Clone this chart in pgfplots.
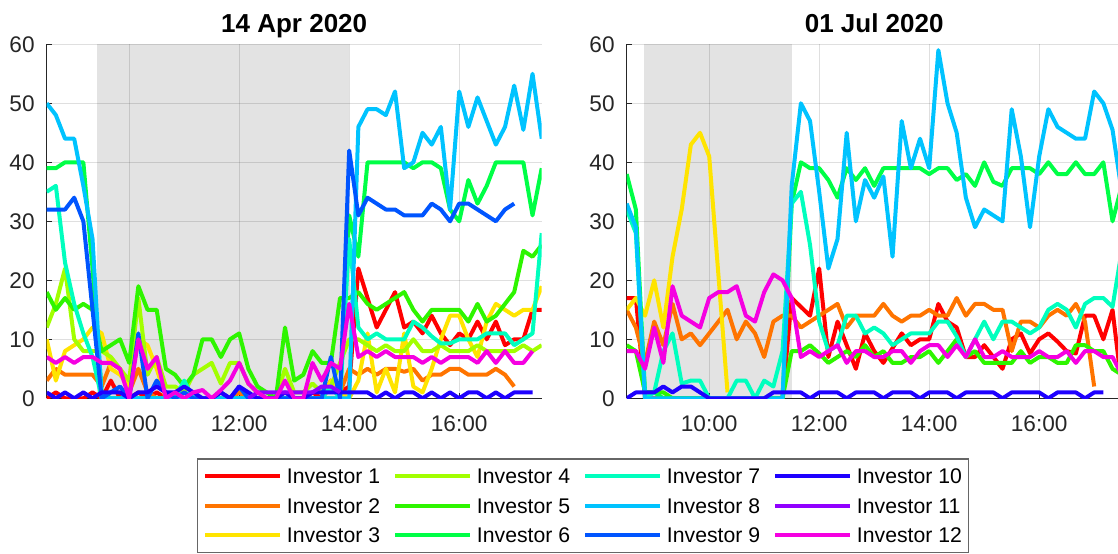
\documentclass[border=0pt]{standalone}
\usepackage{pgfplots}
\pgfplotsset{compat=1.18}
\usepackage{pgfplotstable}
\usepackage{fontspec}
\setmainfont{Liberation Sans}

\definecolor{c1}{RGB}{255,0,0}
\definecolor{c2}{RGB}{255,116,0}
\definecolor{c3}{RGB}{255,228,0}
\definecolor{c4}{RGB}{162,255,0}
\definecolor{c5}{RGB}{46,245,0}
\definecolor{c6}{RGB}{0,255,70}
\definecolor{c7}{RGB}{0,255,190}
\definecolor{c8}{RGB}{0,195,255}
\definecolor{c9}{RGB}{0,85,255}
\definecolor{c10}{RGB}{30,0,255}
\definecolor{c11}{RGB}{145,0,255}
\definecolor{c12}{RGB}{245,0,225}
\definecolor{axc}{RGB}{38,38,38}
\definecolor{shade}{RGB}{227,227,227}

% 14 Apr 2020 : i = 10-minute steps from 08:30
\pgfplotstableread{
i  s1 s2 s3 s4 s5 s6 s7 s8 s9 s10 s11 s12
0  0  3  10 12 18 39 35 50 32 1 nan 7
1  1  5  3  16 15 39 36 48 32 0 nan 6
2  0  4  8  22 17 40 23 44 32 1 nan 7
3  0  4  9  10 15 40 16 44 34 0 nan 6
4  0  4  10 8  16 40 11 36 30 1 nan 7
5  1  4  12 8  15 22 7  27 15 0 nan 7
6  0  2  11 8  8  1  0  0  0  1 nan 6
7  3  6  5  7  9  0  0  0  1  1 nan 6
8  0  5  4  5  10 0  0  0  2  1 nan 5
9  0  1  2  3  6  0  0  0  0  0 nan 0
10 1  5  10 17 19 0  0  0  11 1 nan 10
11 0  1  9  4  15 0  0  0  0  1 nan 5
12 1  0  5  7  15 0  0  0  3  2 nan 7
13 0  0  0  2  5  0  0  0  1  1 nan 0
14 0  0  1  2  4  0  0  0  0  1 nan 1
15 0  0  0  1  2  0  3  0  1  2 nan 0
16 0  0  0  4  4  0  0  0  0  1 nan 1
17 0  0  0  5  10 0  0  0  0  0 nan 1.4
18 0  0  0  6  10 0  0  0  0  0 nan 0
19 0  0  0  2.5 7 0  0  0  1  1 nan 1.4
20 0  0  0  6  10 0  0  0  0  0 nan 3
21 1  1  0  6  11 0  0  0  2  2 nan 6
22 0  0  0  2.5 5 0  0  0  0  1 0 2.5
23 0  0  0  1  2  0  0  0  0  0 1 1
24 0  0  0  0  1  0  0  0  0  0 1 0
25 0  0  0  0  0  0  0  0  0  0 1 0
26 0  0  0  5  12 0  0  0  0  1 1 3
27 0  0  0  1  3  0  0  0  0  0 1 0
28 0  0  0  1  4  0  0  0  0  0 1 0
29 1  0  0  2.5 8 0  0  0  0  1 1 6
30 0  0  0  1  6  0  0  0  0  1 2 3
31 3  2  3  2  6  0  2  0  7  1 2 6
32 1  1  1  6  17 0  0  0  0  1 1 5
33 2  5  0  10 17 31 27 0  42 1 nan 16
34 22 4  3  10 18 24 12 46 31 1 nan 7
35 17 5  11 9  16 40 10 49 34 1 nan 8
36 12 4  1  8  15 40 11 49 33 0 nan 7
37 15 5  5  9  16 40 10 48 32 1 nan 8
38 18 5  1  8  17 40 10 52 32 0 nan 7
39 12 4.5 11 8 18 40 10 39 31 1 nan 7
40 13 5  2  10 15 39 13 40 31 1 nan 7
41 11 3  1  8  13 40 12 45 31 0 nan 6
42 14 4  5  8  15 40 10.5 43 33 1 nan 7
43 11 4  10 9  15 39 9.3 46 32 0 nan 6
44 9  5  14 8  15 32 9.3 32 30 1 nan 7
45 11 5  14 8  15 30 10 52 33 0 nan 7
46 10 4  10 8  13 37 10 46 33 1 nan 7
47 13 4  7  9  16 33 10 51 32 1 nan 6
48 10 4  13 8  13 36 11 47 31 0 nan 8
49 13 5  16 8  14 40 11 43 30 1 nan 6
50 9  4  15 8  16 40 11 46 32 0 nan 8
51 10 2  14 8  18 40 9  53 33 1 nan 6
52 10 nan 15 9 25 40 10 45.5 nan 1 nan 6
53 15 nan 15 8 24 31 11 55 nan 1 nan 8
54 15 nan 19 9 26 39 28 44 nan nan nan nan
}\tabA

% 01 Jul 2020
\pgfplotstableread{
i  s1 s2 s3 s5 s6 s7 s8 s10 s12
0  17 15 15 9  38 32 33 0 8
1  17 12 17 8  32 28 29 1 8
2  0  6  14 1  1  0  0  1 5
3  0  13 20 1  1  1  0  1 12
4  0  9  12 1  0  8  0  2 6
5  0  16 24 0  0  11 0  1 19
6  0  10 32 0  0  2.5 0 2 14
7  0  11 43 0  0  3  0  2 13
8  0  9  45 0  0  3  0  1 12
9  0  11 41 0  0  0  0  0 17
10 0  13 21 0  0  0  0  0 18
11 0  15 1  0  0  0  0  0 18
12 0  10 nan 0 0  3  0  0 19
13 0  13 nan 0 0  3  0  0 14
14 0  11 nan 0 0  0  0  0 13
15 0  7  nan 0 0  3  0  0 18
16 0  13 nan 0 0  2  0  1 21
17 0  14 nan 0 0  8  0  1 20
18 17 14 nan 8 33 33 36 1 17
19 15.5 12 nan 8 40 35 50 1 7
20 14 13 nan 9 39 26 47 0 8
21 22 14 nan 7.6 39 13 35 1 7
22 7  15 nan 6 37 8  22 1 8
23 13 16 nan 7 34 9  27 1 9
24 9  12 nan 8 39 14 45 0 6
25 5  14 nan 7 37 14 30 1 8
26 11 14 nan 9 39 11 37 1 8
27 8  14 nan 7 36 12 34 1 7
28 6  16 nan 8 39 11 37.6 0 7
29 8.5 14 nan 6 39 9 24 1 8
30 11 13 nan 6 39 10 47 1 8
31 9  14 nan 7 39 11 39 1 6
32 10 14 nan 7 39 11 44 0 8
33 10 15 nan 8 38 11 39 1 9
34 16 14 nan 6 39 13 59 1 9
35 13 14 nan 8 39 13 50 1 7
36 12 17 nan 10 37 10.5 45 0 9
37 7  14 nan 7 38 7  34 1 7
38 7  16 nan 8 36 10 29 1 10
39 9  16 nan 6 40 13 32 1 7
40 7  15 nan 6 36.7 10 31 1 7
41 5  15 nan 6 36 13 30 0 8
42 10 8  nan 6 39 13 49 1 7
43 11 13 nan 8 39 12 41 1 7
44 7.6 13 nan 6 39 11 29 1 7
45 10 12 nan 7 38 12 41 1 8
46 11 14 nan 7 40 15 49 0 7
47 9.6 15 nan 6 38 16 46 1 7
48 8  14 nan 6 38 15 45 1 8
49 7.6 16 nan 9 40 12 44 1 6
50 14 13 nan 9 38 16 44 0 8
51 14 2  nan 8 38 17 52 1 8
52 10 nan nan 8 40 17 50 1 7
53 15 nan nan 5 30 15.5 45.5 nan 7
54 2  nan nan 4 36 25 35 nan 4
}\tabB

\pgfplotsset{
  panel/.style={
    scale only axis, width=247.5pt, height=177pt,
    xmin=8.5, xmax=17.5, ymin=0, ymax=60,
    xtick={10,12,14,16}, xticklabels={10:00,12:00,14:00,16:00},
    ytick={0,10,...,60},
    set layers=standard,
    axis lines*=left,
    axis line style={axc, line width=0.5pt},
    tick align=inside, major tick length=2.5pt,
    tick style={axc, line width=0.5pt},
    xmajorgrids, ymajorgrids,
    grid style={axc, opacity=0.15, line width=0.5pt},
    ticklabel style={font=\fontsize{11.3}{13}\selectfont, text=axc, inner sep=0pt},
    yticklabel style={xshift=-5.85pt},
    xticklabel style={yshift=-8.7pt},
    /pgf/number format/assume math mode=true,
    title style={at={(0.5,1)}, anchor=base, yshift=0pt, inner sep=0pt,
      font=\bfseries\fontsize{13}{15}\selectfont},
    unbounded coords=jump,
    every axis plot/.append style={line width=2pt, line join=round},
  }
}
\newcommand{\lent}[1]{\makebox[50.8pt][l]{#1}}
\newcommand{\lentw}[1]{\makebox[52.8pt][l]{#1}}

\begin{document}
\begin{tikzpicture}
\begin{axis}[panel, at={(23.35pt,77.35pt)}, anchor=south west,
  title={14 Apr 2020},
  legend columns=3, transpose legend,
  legend cell align=left,
  legend image code/.code={\draw[#1, line width=2pt] (0pt,0pt) -- (37.5pt,0pt);},
  legend style={at={(0.3036,-0.1695)}, anchor=north west,
    draw=black!60, line width=0.6pt, inner xsep=2.85pt, inner ysep=4.85pt,
    column sep=2.35pt, row sep=7.15pt,
    font=\fontsize{10.6}{12}\selectfont,
    nodes={inner sep=0pt, text height=7.6pt, text depth=0pt}},
]
\addplot[fill=shade, draw=none, forget plot, on layer=axis background]
  coordinates {(9.4167,60) (14,60)} \closedcycle;
\addplot[c1] table[x expr=8.5+\thisrow{i}/6, y=s1] {\tabA};
\addlegendentry{\lent{Investor 1}}
\addplot[c2] table[x expr=8.5+\thisrow{i}/6, y=s2] {\tabA};
\addlegendentry{\lent{Investor 2}}
\addplot[c3] table[x expr=8.5+\thisrow{i}/6, y=s3] {\tabA};
\addlegendentry{\lent{Investor 3}}
\addplot[c4] table[x expr=8.5+\thisrow{i}/6, y=s4] {\tabA};
\addlegendentry{\lent{Investor 4}}
\addplot[c5] table[x expr=8.5+\thisrow{i}/6, y=s5] {\tabA};
\addlegendentry{\lent{Investor 5}}
\addplot[c6] table[x expr=8.5+\thisrow{i}/6, y=s6] {\tabA};
\addlegendentry{\lent{Investor 6}}
\addplot[c7] table[x expr=8.5+\thisrow{i}/6, y=s7] {\tabA};
\addlegendentry{\lent{Investor 7}}
\addplot[c8] table[x expr=8.5+\thisrow{i}/6, y=s8] {\tabA};
\addlegendentry{\lent{Investor 8}}
\addplot[c9] table[x expr=8.5+\thisrow{i}/6, y=s9] {\tabA};
\addlegendentry{\lent{Investor 9}}
\addplot[c10] table[x expr=8.5+\thisrow{i}/6, y=s10] {\tabA};
\addlegendentry{\lentw{Investor 10}}
\addplot[c11] table[x expr=8.5+\thisrow{i}/6, y=s11] {\tabA};
\addlegendentry{\lentw{Investor 11}}
\addplot[c12] table[x expr=8.5+\thisrow{i}/6, y=s12] {\tabA};
\addlegendentry{\lentw{Investor 12}}
\end{axis}

\begin{axis}[panel, at={(313.35pt,77.35pt)}, anchor=south west,
  title={01 Jul 2020}]
\addplot[fill=shade, draw=none, forget plot, on layer=axis background]
  coordinates {(8.8167,60) (11.5,60)} \closedcycle;
\addplot[c1] table[x expr=8.5+\thisrow{i}/6, y=s1] {\tabB};
\addplot[c2] table[x expr=8.5+\thisrow{i}/6, y=s2] {\tabB};
\addplot[c3] table[x expr=8.5+\thisrow{i}/6, y=s3] {\tabB};
\addplot[c5] table[x expr=8.5+\thisrow{i}/6, y=s5] {\tabB};
\addplot[c6] table[x expr=8.5+\thisrow{i}/6, y=s6] {\tabB};
\addplot[c7] table[x expr=8.5+\thisrow{i}/6, y=s7] {\tabB};
\addplot[c8] table[x expr=8.5+\thisrow{i}/6, y=s8] {\tabB};
\addplot[c10] table[x expr=8.5+\thisrow{i}/6, y=s10] {\tabB};
\addplot[c12] table[x expr=8.5+\thisrow{i}/6, y=s12] {\tabB};
\end{axis}
\pgfresetboundingbox
\useasboundingbox (0,0) rectangle (559pt,276.5pt);
\end{tikzpicture}
\end{document}
